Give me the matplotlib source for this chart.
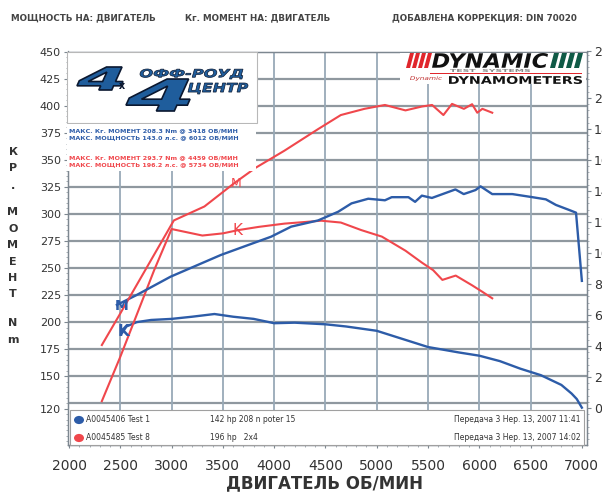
import matplotlib.pyplot as plt
from matplotlib.font_manager import FontProperties
from matplotlib.patches import PathPatch, Polygon, Rectangle, Circle
from matplotlib.textpath import TextPath
from matplotlib.transforms import Affine2D
from matplotlib.ticker import MultipleLocator

plt.rcParams["font.family"] = ["DejaVu Sans"]

blue_power_rpm = [2467, 2663, 2990, 3480, 3741, 3970, 4166, 4428, 4624, 4754, 4917, 5080, 5146,
                  5309, 5374, 5440, 5538, 5767, 5848, 5963, 6012, 6126, 6322, 6518, 6649, 6747,
                  6878, 6943, 7000]
blue_power_hp = [66.5, 73, 84.7, 98.7, 105, 110.5, 117, 121, 126.6, 132, 135, 134, 136,
                 136, 133, 137, 135.5, 141, 138, 140.6, 143, 138, 138, 136, 134.6, 131,
                 127.7, 126, 82]

blue_torque_rpm = [2510, 2560, 2660, 2800, 3000, 3200, 3418, 3600, 3800, 4000, 4200, 4500,
                   4700, 5000, 5200, 5500, 5800, 6000, 6200, 6400, 6600, 6800, 6900, 6950, 7000]
blue_torque_nm = [189, 196, 200, 202, 203, 205, 207.5, 205, 203, 199, 199.5, 198,
                  196, 192, 186, 177, 172, 169, 164, 157, 151, 142, 134, 129, 121]

red_power_rpm = [2320, 2500, 3022, 3320, 3610, 3820, 4100, 4430, 4650, 4880, 5080, 5280,
                 5440, 5540, 5650, 5734, 5850, 5930, 5980, 6030, 6126]
red_power_hp = [40.6, 61, 121, 130, 145, 155, 166, 180, 189, 193, 195.5, 192,
                194.5, 195.5, 189, 196.2, 193, 196, 190.5, 193, 190.5]

red_torque_rpm = [2320, 2500, 2830, 3000, 3100, 3300, 3500, 3650, 3850, 4100, 4459, 4650,
                  4850, 5050, 5280, 5440, 5550, 5640, 5770, 5930, 6030, 6126]
red_torque_nm = [127, 168, 248, 286, 284, 280, 282, 285, 288, 291, 293.7, 292,
                 285, 279, 266, 255, 248, 239, 243, 234, 228, 222]

rpm_ticks = [2000, 2500, 3000, 3500, 4000, 4500, 5000, 5500, 6000, 6500, 7000]
torque_ticks = [120, 150, 175, 200, 225, 250, 275, 300, 325, 350, 375, 400, 425, 450]
torque_grid = [125, 150, 175, 200, 225, 250, 275, 300, 325, 350, 375, 400, 425]
power_ticks = [0, 20, 40, 60, 80, 100, 120, 140, 160, 180, 200, 230]

header = ["МОЩНОСТЬ НА: ДВИГАТЕЛЬ", "Кг. МОМЕНТ НА: ДВИГАТЕЛЬ", "ДОБАВЛЕНА КОРРЕКЦИЯ: DIN 70020"]
blue_info = ["МАКС. Кг. МОМЕНТ 208.3 Nm @ 3418 ОБ/МИН", "МАКС. МОЩНОСТЬ 143.0 л.с. @ 6012 ОБ/МИН"]
red_info = ["МАКС. Кг. МОМЕНТ 293.7 Nm @ 4459 ОБ/МИН", "МАКС. МОЩНОСТЬ 196.2 л.с. @ 5734 ОБ/МИН"]
runs = [("A0045406 Test 1", "142 hp 208 n poter 15", "Передача 3 Нер. 13, 2007 11:41"),
        ("A0045485 Test 8", "196 hp   2x4", "Передача 3 Нер. 13, 2007 14:02")]
ylabel_letters = ["К", "Р", ".", "М", "О", "М", "Е", "Н", "Т", "N", "m"]

BLUE = "#2d5ca8"
RED = "#f0474c"
TXT = "#333333"

W, H = 602, 493
fig = plt.figure(figsize=(W / 100, H / 100), dpi=100)


def fx(px):
    return px / W


def fy(py):
    return 1 - py / H


def fit_text(s, x, y, w, h, fc, ec="none", lw=0, weight="bold", style="italic", z=6):
    # текст, вписанный в прямоугольник (пиксели, от левого верхнего угла)
    tp = TextPath((0, 0), s, size=10, prop=FontProperties(family="DejaVu Sans", weight=weight, style=style))
    bb = tp.get_extents()
    tr = (Affine2D().translate(-bb.x0, -bb.y0)
          .scale(w / bb.width / W, h / bb.height / H)
          .translate(x / W, 1 - (y + h) / H))
    p = PathPatch(tr.transform_path(tp), fc=fc, ec=ec, lw=lw, transform=fig.transFigure, zorder=z)
    fig.add_artist(p)


ax = fig.add_axes([fx(68), fy(445), fx(587) - fx(68), fy(51.5) - fy(445)])
ax.set_xlim(1990, 7050)
ax.set_ylim(86.5, 450)
ax2 = ax.twinx()
ax2.set_ylim(-23.9, 230)

ax.hlines(torque_grid, 1990, 7050, color="#8f989f", lw=1.6, zorder=1)
ax.vlines(rpm_ticks[1:-1], 86.5, 450, color="#98a9b7", lw=1.3, zorder=1)

ax.plot(blue_torque_rpm, blue_torque_nm, color=BLUE, lw=1.7, zorder=3)
ax.plot(red_torque_rpm, red_torque_nm, color=RED, lw=1.5, zorder=3)
ax2.plot(blue_power_rpm, blue_power_hp, color=BLUE, lw=1.7, zorder=3)
ax2.plot(red_power_rpm, red_power_hp, color=RED, lw=1.5, zorder=3)

# рукописные метки К / М
ax.text(3640, 285, "K", color=RED, fontsize=11, ha="center", va="center")
ax.text(2530, 191, "K", color=BLUE, fontsize=11, ha="center", va="center", weight="bold")
ax2.text(3630, 145, "M", color=RED, fontsize=9, ha="center", va="center")
ax2.text(2510, 66, "M", color=BLUE, fontsize=10, ha="center", va="center", weight="bold")

for a in (ax, ax2):
    for s in a.spines.values():
        s.set_color("#7d8790")
        s.set_linewidth(0.9)

ax.set_xticks(rpm_ticks)
ax.set_yticks(torque_ticks)
ax2.set_yticks(power_ticks)
ax.xaxis.set_minor_locator(MultipleLocator(100))
ax.yaxis.set_minor_locator(MultipleLocator(5))
ax2.yaxis.set_minor_locator(MultipleLocator(4))
ax.tick_params(axis="x", which="major", length=2, pad=8, labelsize=10, labelcolor=TXT, color="#7d8790")
ax.tick_params(axis="y", which="major", length=3, pad=2, labelsize=8, labelcolor=TXT, color="#7d8790")
ax.tick_params(which="minor", length=1.5, color="#9aa3aa")
ax2.tick_params(axis="y", which="major", length=3, pad=2, labelsize=9, labelcolor=TXT, color="#7d8790")
ax2.tick_params(which="minor", length=1.5, color="#9aa3aa")

# шапка
for s, x in zip(header, [11, 185, 392]):
    fig.text(fx(x), fy(18), s, fontsize=6.3, weight="bold", color="#444444", va="center")

# подпись левой оси буквами в столбик
for s, y in zip(ylabel_letters, [152, 168, 186, 212, 229, 245, 262, 278, 294, 323, 340]):
    fig.text(fx(13), fy(y), s, fontsize=8, weight="bold", color=TXT, ha="center", va="center")

fig.text(fx(325), fy(483), "ДВИГАТЕЛЬ ОБ/МИН", fontsize=12, weight="bold", color=TXT,
         ha="center", va="center")

# логотип 4x4
fig.add_artist(Rectangle((fx(67), fy(123)), fx(257) - fx(67), fy(52) - fy(123), fc="white",
                         ec="#b8b8b8", lw=0.8, transform=fig.transFigure, zorder=5))
fig.add_artist(Rectangle((fx(67), fy(171)), fx(256) - fx(67), fy(124) - fy(171), fc="white",
                         ec="none", transform=fig.transFigure, zorder=5))
LOGO = "#1f5d9c"
fit_text("4", 77, 67, 46, 23, LOGO, ec="#0b1830", lw=1.2)
fit_text("4", 126, 79, 64, 32, LOGO, ec="#0b1830", lw=1.2)
fit_text("x", 119, 83, 6, 6, "#0b1830", weight="bold", style="normal")
fit_text("ОФФ-РОУД", 140, 69, 103, 10, LOGO, ec="#0b1830", lw=0.5)
fit_text("ЦЕНТР", 188, 83, 60, 11, LOGO, ec="#0b1830", lw=0.5)

for s, y in zip(blue_info, [131, 138]):
    fig.text(fx(69), fy(y), s, fontsize=4.6, weight="bold", color=BLUE, va="center", zorder=6)
for s, y in zip(red_info, [158, 165]):
    fig.text(fx(69), fy(y), s, fontsize=4.6, weight="bold", color=RED, va="center", zorder=6)

# логотип DYNAMIC
fig.add_artist(Rectangle((fx(400), fy(84)), fx(586) - fx(400), fy(53) - fy(84), fc="white",
                         ec="none", transform=fig.transFigure, zorder=5))
for i in range(4):
    x0 = 406 + i * 6
    fig.add_artist(Polygon([(fx(x0), fy(68)), (fx(x0 + 4), fy(68)), (fx(x0 + 8), fy(53)), (fx(x0 + 4), fy(53))],
                           closed=True, fc="#e0262c", ec="none", transform=fig.transFigure, zorder=6))
    x1 = 550 + i * 8
    fig.add_artist(Polygon([(fx(x1), fy(68)), (fx(x1 + 5), fy(68)), (fx(x1 + 9), fy(53)), (fx(x1 + 4), fy(53))],
                           closed=True, fc="#0f5a46", ec="none", transform=fig.transFigure, zorder=6))
fit_text("DYNAMIC", 432, 53, 116, 15, "#111111")
fit_text("TEST  SYSTEMS", 450, 69, 80, 3, "#888888", style="normal")
fig.add_artist(Rectangle((fx(430), fy(74)), fx(582) - fx(430), 1.2 / H, fc="#e0262c", ec="none",
                         transform=fig.transFigure, zorder=6))
fit_text("Dynamic", 410, 76, 32, 5, "#c03030", weight="normal")
fit_text("DYNAMOMETERS", 449, 76, 133, 8, "#111111", style="normal")

# легенда заездов
fig.add_artist(Rectangle((fx(70), fy(445)), fx(584) - fx(70), fy(410) - fy(445), fc="white",
                         ec="#a0a0a0", lw=0.8, transform=fig.transFigure, zorder=5))
for (name, note, date), y, c in zip(runs, [420, 438], [BLUE, RED]):
    fig.add_artist(Circle((fx(79), fy(y)), 5 / W, fc=c, ec="none", transform=fig.transFigure, zorder=6))
    fig.text(fx(86), fy(y), name, fontsize=5.5, color=TXT, va="center", zorder=7)
    fig.text(fx(210), fy(y), note, fontsize=5.5, color=TXT, va="center", zorder=7)
    fig.text(fx(581), fy(y), date, fontsize=5.5, color=TXT, va="center", ha="right", zorder=7)

fig.savefig("out.png", dpi=100)
